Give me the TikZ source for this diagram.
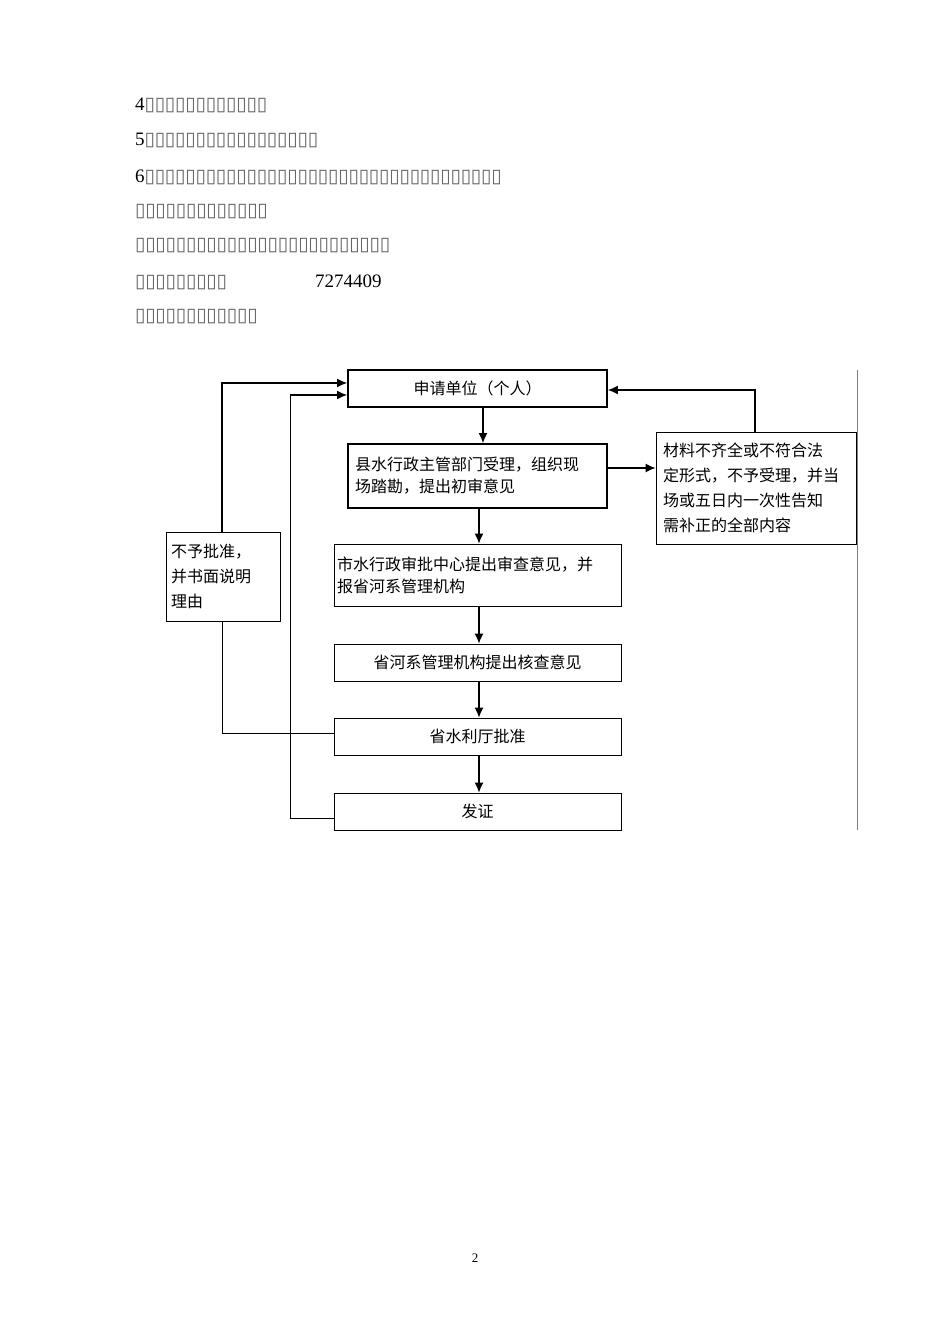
\documentclass[tikz,border=0pt]{standalone}
\usepackage{fontspec}
\setmainfont{Liberation Serif}
\newfontfamily\cjk{Noto Sans CJK SC}
\newfontfamily\dv{DejaVu Sans}
\usetikzlibrary{arrows.meta}
\newcommand{\bx}[1]{\foreach \i in {1,...,#1}{\makebox[10.2pt]{\dv\fontsize{19}{19}\selectfont\color{black!60}▯}}}
\begin{document}
\begin{tikzpicture}[x=1pt,y=-1pt,
  box/.style={draw,line width=0.8pt,minimum width=287pt,inner sep=2pt,font=\cjk\fontsize{16}{22}\selectfont},
  thick box/.style={box,line width=1.8pt,minimum width=259pt},
  tline/.style={anchor=west,inner sep=0pt,font=\fontsize{19}{19}\selectfont},
  arr/.style={line width=1.3pt,-{Latex[length=10pt,width=9pt]}},
  ln/.style={line width=0.8pt}]
\useasboundingbox (0,0) rectangle (950,1344);
\node[tline] (t1) at (135,105) {4\bx{12}};
\node[tline] (t2) at (135,140) {5\bx{17}};
\node[tline] (t3) at (135,177) {6\bx{35}};
\node[tline] (t4) at (135,212) {\bx{13}};
\node[tline] (t5) at (135,246) {\bx{25}};
\node[tline] (t6) at (135,282) {\bx{9}\hspace{88pt}7274409};
\node[tline] (t7) at (135,317) {\bx{12}};
\node[thick box,minimum height=37pt] (A) at (477.5,388.5) {申请单位（个人）};
\node[thick box,minimum height=64pt,align=left,text width=245pt] (B) at (477.5,476) {县水行政主管部门受理，组织现\\场踏勘，提出初审意见};
\node[box,minimum height=62pt,align=left,text width=281pt] (C) at (477.5,575) {市水行政审批中心提出审查意见，并\\报省河系管理机构};
\node[box,minimum height=37pt] (D) at (477.5,662.5) {省河系管理机构提出核查意见};
\node[box,minimum height=37pt] (E) at (477.5,736.5) {省水利厅批准};
\node[box,minimum height=37pt] (F) at (477.5,811.5) {发证};
\node[box,minimum width=200pt,minimum height=112pt,align=left,text width=186pt,font=\cjk\fontsize{16}{25}\selectfont] (R) at (756,488) {材料不齐全或不符合法\\定形式，不予受理，并当\\场或五日内一次性告知\\需补正的全部内容};
\node[box,minimum width=114pt,minimum height=89pt,align=left,text width=104pt,font=\cjk\fontsize{16}{25}\selectfont] (L) at (223,576.5) {不予批准，\\并书面说明\\理由};
\node[font=\fontsize{13}{13}\selectfont] (pg) at (475,1258) {2};
\draw[arr] (A.south -| 483,0) -- (B.north -| 483,0);
\draw[arr] (B.south -| 479,0) -- (C.north -| 479,0);
\draw[arr] (C.south -| 479,0) -- (D.north -| 479,0);
\draw[arr] (D.south -| 479,0) -- (E.north -| 479,0);
\draw[arr] (E.south -| 479,0) -- (F.north -| 479,0);
\draw[arr] (B.east |- 0,468) -- (R.west |- 0,468);
\draw[arr] (R.north -| 755,0) |- (A.east |- 0,390);
\draw[arr] (L.north -| 222,0) |- (A.west |- 0,383);
\draw[ln] (E.west |- 0,733) -| (L.south -| 222,0);
\coordinate (fu) at (290,395);
\draw[ln] (F.west |- 0,818) -| (fu);
\draw[arr] (fu) -- (A.west |- 0,395);
\draw[gray,line width=0.6pt] (857,370) coordinate (g1) -- (857,830) coordinate (g2);
\end{tikzpicture}
\end{document}
